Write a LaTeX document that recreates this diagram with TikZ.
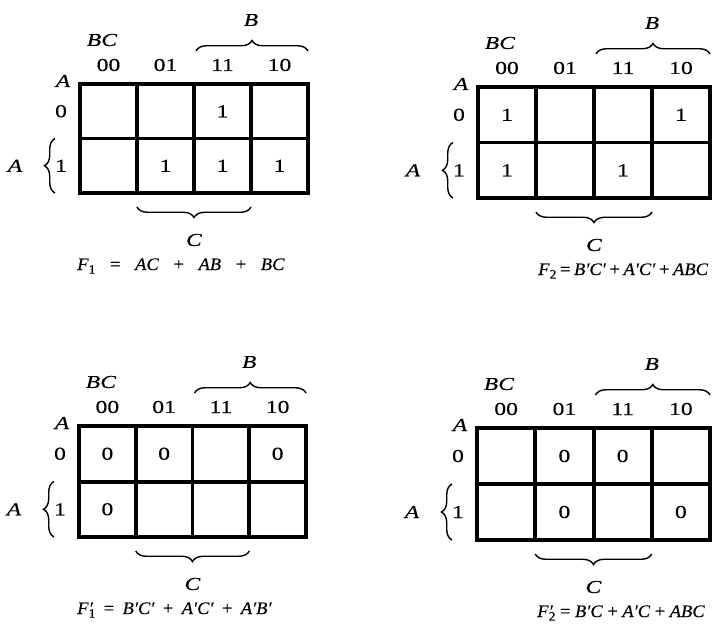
\documentclass[tikz,border=0pt]{standalone}
\usepackage{fontspec}
\setmainfont{Liberation Serif}
\newfontfamily\kvschrift{Liberation Serif}[FakeStretch=1.3,FakeBold=0.3]
\newfontfamily\fschrift{Liberation Serif}[FakeStretch=1.05,FakeBold=0.3]
\usetikzlibrary{decorations.pathreplacing}

\tikzset{
  gitter/.style={line width=3.4pt},
  beschr/.style={font=\fontsize{15.5}{17}\selectfont\kvschrift, inner sep=0pt},
  formel/.style={font=\fontsize{15}{17}\selectfont\fschrift, inner sep=0pt, anchor=west},
  klammer/.style={decorate, decoration={brace, amplitude=9pt}, line width=1.2pt},
}

% Index und Strich an F
\newcommand{\fidx}[1]{\raisebox{-0.45ex}{\fontsize{11}{11}\selectfont #1}}
\newcommand{\fstrich}[1]{\textit{F}\rlap{\kern1pt ′}\fidx{#1}}
\newcommand{\fzeile}[2]{\makebox[#1]{#2}}

% KV-Diagramm: Name, x, y, Zellbreite, Zellhoehe, Zeile 0, Zeile 1, Funktion, x der Funktion
\newcommand{\kvdiag}[9]{%
  \begin{scope}[shift={(#2,#3)}]
    % Gitter
    \draw[gitter] (0,0) rectangle (4*#4,2*#5);
    \foreach \i in {1,2,3} {
      \draw[gitter] (\i*#4,0) -- (\i*#4,2*#5);
    }
    \draw[gitter] (0,#5) -- (4*#4,#5);

    % Variablen und Kodierung
    \node[beschr] (#1-bc) at (22,-44) {\textit{BC}};
    \foreach \bits [count=\n] in {00,01,11,10} {
      \node[beschr] (#1-s\n) at ({(\n-0.5)*#4},-19) {\bits};
    }
    \node[beschr] (#1-a) at (-17,-3) {\textit{A}};
    \node[beschr] (#1-z0) at (-19,0.5*#5) {0};
    \node[beschr] (#1-z1) at (-19,1.5*#5) {1};

    % Klammer B
    \coordinate (#1-bl) at (2*#4+2,-33);
    \coordinate (#1-br) at (4*#4,-33);
    \draw[klammer] (#1-bl) -- (#1-br);
    \node[beschr] (#1-b) at (3*#4,-64) {\textit{B}};

    % Klammer C
    \coordinate (#1-cr) at (3*#4,2*#5+14);
    \coordinate (#1-cl) at (#4,2*#5+14);
    \draw[klammer] (#1-cr) -- (#1-cl);
    \node[beschr] (#1-c) at (2*#4,2*#5+47) {\textit{C}};

    % Klammer A
    \coordinate (#1-au) at (-25,2*#5);
    \coordinate (#1-ao) at (-25,#5);
    \draw[klammer] (#1-au) -- (#1-ao);
    \node[beschr] (#1-al) at (-65,1.5*#5) {\textit{A}};

    % Eintraege
    \foreach \s/\w in {#6} {
      \node[beschr] (#1-e0\s) at ({(\s+0.5)*#4},0.5*#5) {\w};
    }
    \foreach \s/\w in {#7} {
      \node[beschr] (#1-e1\s) at ({(\s+0.5)*#4},1.5*#5) {\w};
    }

    % Funktion
    \node[formel] (#1-f) at (#9,2*#5+73) {#8};
  \end{scope}}

\begin{document}
\begin{tikzpicture}[x=0.03cm,y=-0.03cm]
  \useasboundingbox (0,0) rectangle (713,635);

  % F1
  \kvdiag{kv1}{80}{84}{57}{54.5}{2/1}{1/1,2/1,3/1}
    {\fzeile{177pt}{\textit{F}\fidx{1}\hfill=\hfill\textit{AC}\hfill+\hfill\textit{AB}\hfill+\hfill\textit{BC}}}{-3}

  % F2
  \kvdiag{kv2}{478}{87}{58}{55.5}{0/1,3/1}{0/1,2/1}
    {\fzeile{145pt}{\textit{F}\fidx{2}\hfill=\hfill\textit{B′C′}\hfill+\hfill\textit{A′C′}\hfill+\hfill\textit{ABC}}}{60}

  % F1'
  \kvdiag{kv3}{79}{426}{56.75}{55.5}{0/0,1/0,3/0}{0/0}
    {\fzeile{166pt}{\fstrich{1}\hfill=\hfill\textit{B′C′}\hfill+\hfill\textit{A′C′}\hfill+\hfill\textit{A′B′}}}{-2}

  % F2'
  \kvdiag{kv4}{477}{428}{58.25}{56}{1/0,2/0}{1/0,3/0}
    {\fzeile{143pt}{\fstrich{2}\hfill=\hfill\textit{B′C}\hfill+\hfill\textit{A′C}\hfill+\hfill\textit{ABC}}}{60}
\end{tikzpicture}
\end{document}
